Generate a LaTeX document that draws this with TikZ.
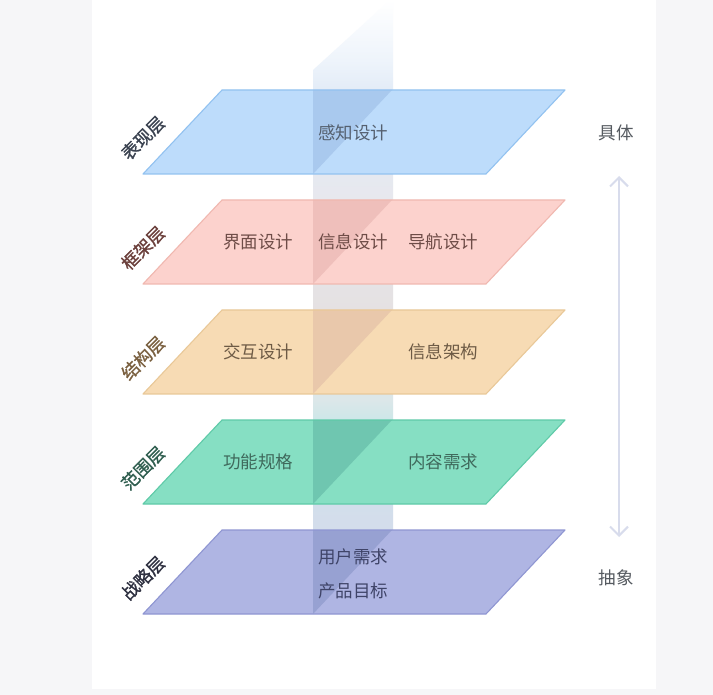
\documentclass[tikz,border=0pt]{standalone}
\usepackage{fontspec}
\setmainfont{Noto Sans CJK SC}
\newfontfamily\lblfont[FakeBold=1.2]{Noto Sans CJK SC}
\usetikzlibrary{arrows.meta}
\definecolor{outerbg}{HTML}{F6F6F8}
\definecolor{bandA}{HTML}{D5DAEE}
\definecolor{bandB}{HTML}{D3DDEB}
\definecolor{bandC}{HTML}{CDE7E8}
\definecolor{bandD}{HTML}{DCE7E9}
\definecolor{bandE}{HTML}{E5E1E2}
\definecolor{bandF}{HTML}{E7E8EE}
\definecolor{bandG}{HTML}{E3ECF7}
\definecolor{bandH}{HTML}{EEF4FB}
\definecolor{bluF}{HTML}{BDDCFB}
\definecolor{bluD}{HTML}{92C2F0}
\definecolor{bluO}{HTML}{A9C9EE}
\definecolor{bluT}{HTML}{55606F}
\definecolor{pnkF}{HTML}{FCD2CD}
\definecolor{pnkD}{HTML}{F0B8B0}
\definecolor{pnkO}{HTML}{EFBFBB}
\definecolor{pnkT}{HTML}{6E4C47}
\definecolor{pnkL}{HTML}{6B3F3B}
\definecolor{orgF}{HTML}{F7DBB4}
\definecolor{orgD}{HTML}{E9C898}
\definecolor{orgO}{HTML}{E9C8AB}
\definecolor{orgT}{HTML}{6D5A45}
\definecolor{orgL}{HTML}{7A6040}
\definecolor{grnF}{HTML}{86DFC3}
\definecolor{grnD}{HTML}{5FCAA8}
\definecolor{grnO}{HTML}{6FC6B0}
\definecolor{grnT}{HTML}{3F6A5C}
\definecolor{grnL}{HTML}{2F5E4F}
\definecolor{purF}{HTML}{AFB5E3}
\definecolor{purD}{HTML}{8F96D2}
\definecolor{purO}{HTML}{97A1D2}
\definecolor{purT}{HTML}{3F4468}
\definecolor{purL}{HTML}{2E3040}
\definecolor{bluL}{HTML}{3A4250}
\definecolor{sideT}{HTML}{555A60}
\definecolor{arrC}{HTML}{D8DCEC}
\pgfdeclareverticalshading{bandsh}{100bp}{color(0bp)=(bandA); color(25bp)=(bandA); color(32.6bp)=(bandB); color(40.8bp)=(bandC); color(42.4bp)=(bandD); color(49.7bp)=(bandE); color(58.7bp)=(bandF); color(67.7bp)=(bandG); color(70.1bp)=(bandH); color(75bp)=(white); color(100bp)=(white)}
\begin{document}
\begin{tikzpicture}[x=1pt,y=-1pt,
  txt/.style={inner sep=0pt, font=\fontsize{17.5}{20}\selectfont},
  lbl/.style={inner sep=0pt, font=\lblfont\fontsize{17.5}{20}\selectfont, rotate=45},
  edge/.style={line width=1.1pt, line join=round},
  arr/.style={line width=2pt, draw=arrC, {Straight Barb[length=9pt,width=18pt,line width=2pt]}-{Straight Barb[length=9pt,width=18pt,line width=2pt]}}]
\useasboundingbox (0,0) rectangle (713,695);
\fill[outerbg] (0,0) rectangle (713,695);
\fill[white] (92,0) rectangle (656,689);
% vertical band
\shade[shading=bandsh] (313,70) -- (390,0) -- (393,0) -- (393,613) -- (313,613) -- cycle;
% blue plane
\fill[bluF] (222,90) -- (565,90) -- (486,174) -- (143,174) -- cycle;
\fill[bluO] (313,90) -- (392,90) -- (313,174) -- cycle;
\draw[edge, bluD] (222,90) -- (565,90) -- (486,174) -- (143,174) -- cycle;
% pink plane
\fill[pnkF] (222,200) -- (565,200) -- (486,284) -- (143,284) -- cycle;
\fill[pnkO] (313,200) -- (392,200) -- (313,284) -- cycle;
\draw[edge, pnkD] (222,200) -- (565,200) -- (486,284) -- (143,284) -- cycle;
% orange plane
\fill[orgF] (222,310) -- (565,310) -- (486,394) -- (143,394) -- cycle;
\fill[orgO] (313,310) -- (392,310) -- (313,394) -- cycle;
\draw[edge, orgD] (222,310) -- (565,310) -- (486,394) -- (143,394) -- cycle;
% green plane
\fill[grnF] (222,420) -- (565,420) -- (486,504) -- (143,504) -- cycle;
\fill[grnO] (313,420) -- (392,420) -- (313,504) -- cycle;
\draw[edge, grnD] (222,420) -- (565,420) -- (486,504) -- (143,504) -- cycle;
% purple plane
\fill[purF] (222,530) -- (565,530) -- (486,614) -- (143,614) -- cycle;
\fill[purO] (313,530) -- (392,530) -- (313,614) -- cycle;
\draw[edge, purD] (222,530) -- (565,530) -- (486,614) -- (143,614) -- cycle;
% plane texts
\node[txt, text=bluT] (t1) at (353,133) {感知设计};
\node[txt, text=pnkT] (t2a) at (258,242) {界面设计};
\node[txt, text=pnkT] (t2b) at (353,242) {信息设计};
\node[txt, text=pnkT] (t2c) at (443,242) {导航设计};
\node[txt, text=orgT] (t3a) at (258,352) {交互设计};
\node[txt, text=orgT] (t3b) at (443,352) {信息架构};
\node[txt, text=grnT] (t4a) at (258,462) {功能规格};
\node[txt, text=grnT] (t4b) at (443,462) {内容需求};
\node[txt, text=purT] (t5a) at (353,557) {用户需求};
\node[txt, text=purT] (t5b) at (353,591) {产品目标};
% left labels
\node[lbl, text=bluL] (l1) at (143,138) {表现层};
\node[lbl, text=pnkL] (l2) at (143,248) {框架层};
\node[lbl, text=orgL] (l3) at (143,358) {结构层};
\node[lbl, text=grnL] (l4) at (143,468) {范围层};
\node[lbl, text=purL] (l5) at (143,578) {战略层};
% right side
\node[txt, text=sideT] (jt) at (616,133) {具体};
\node[txt, text=sideT] (cx) at (616,578) {抽象};
\coordinate (atop) at (619,176);
\coordinate (abot) at (619,537);
\draw[arr] (atop) -- (abot);
\end{tikzpicture}
\end{document}
